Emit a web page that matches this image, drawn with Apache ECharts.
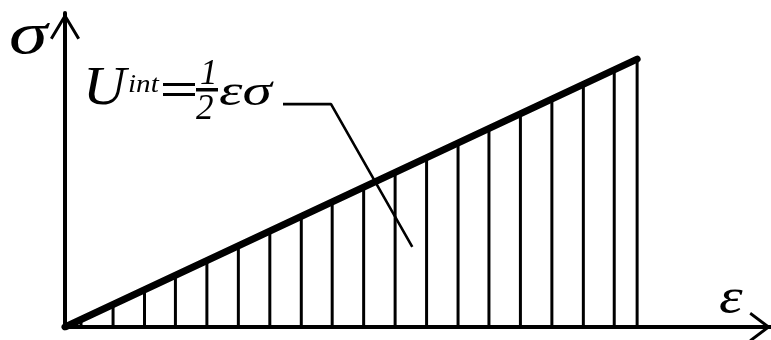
<!DOCTYPE html>
<html>
<head>
<meta charset="utf-8">
<script src="https://cdn.jsdelivr.net/npm/echarts@6/dist/echarts.min.js"></script>
<style>
  html, body { margin: 0; padding: 0; background: #fff; }
  #chart { width: 771px; height: 340px; }
</style>
</head>
<body>
<div id="chart"></div>
<script>
// Linear-elastic loading path: stress rises in proportion to strain
const loadPath = [[0, 0], [10, 10]];

// Hatching under the line (strain, stress at that strain)
const hatchLines = [
  [0.28, 0.28], [0.84, 0.84], [1.39, 1.39], [1.93, 1.93], [2.48, 2.48],
  [3.03, 3.03], [3.58, 3.58], [4.13, 4.13], [4.67, 4.67], [5.22, 5.22],
  [5.77, 5.77], [6.32, 6.32], [6.87, 6.87], [7.41, 7.41], [7.96, 7.96],
  [8.51, 8.51], [9.06, 9.06], [9.60, 9.60], [10.0, 10.0]
];

// Leader from the energy label into the hatched area
const leaderPath = [[3.81, 8.32], [4.65, 8.32], [6.07, 2.99]];

// Axis ranges
const strainMax = 12.34;
const stressMax = 11.72;

// Open chevron arrowheads (thin filled V shapes, tip pointing up)
const arrowY = 'path://M0,25 L15,0 L30,25 L27.4,26.5 L15,5.8 L2.6,26.5 Z';
const arrowX = 'path://M0,20 L15,0 L30,20 L27.6,21.6 L15,5.0 L2.4,21.6 Z';

const serif = '"Liberation Serif", "DejaVu Serif", serif';
const ink = '#000';

// Italic serif text placed by its top-left corner, optionally widened
function glyph(text, x, y, size, scaleX) {
  return {
    type: 'text', x: x, y: y, scaleX: scaleX || 1,
    style: { text: text, x: 0, y: 0, align: 'left', verticalAlign: 'top',
             font: 'italic ' + size + 'px ' + serif, fill: ink }
  };
}
function bar(x, y, w, h) {
  return { type: 'rect', shape: { x: x, y: y, width: w, height: h }, style: { fill: ink } };
}

const chart = echarts.init(document.getElementById('chart'), null, { renderer: 'canvas' });

chart.setOption({
  animation: false,
  backgroundColor: '#fff',
  grid: { left: 65, right: 0, top: 13, bottom: 13, containLabel: false },
  xAxis: {
    type: 'value', min: 0, max: strainMax,
    axisLine: {
      show: true, onZero: false,
      lineStyle: { color: ink, width: 4 },
      symbol: ['none', arrowX], symbolSize: [30, 21.6], symbolOffset: [0, -10.8]
    },
    axisTick: { show: false }, axisLabel: { show: false }, splitLine: { show: false }
  },
  yAxis: {
    type: 'value', min: 0, max: stressMax,
    axisLine: {
      show: true, onZero: false,
      lineStyle: { color: ink, width: 4 },
      symbol: ['none', arrowY], symbolSize: [30, 26.5], symbolOffset: [0, -13.25]
    },
    axisTick: { show: false }, axisLabel: { show: false }, splitLine: { show: false }
  },
  series: [
    {
      name: 'hatch', type: 'bar', data: hatchLines, barWidth: 3,
      itemStyle: { color: ink }, z: 2, silent: true
    },
    {
      name: 'load', type: 'line', data: loadPath, showSymbol: false,
      lineStyle: { color: ink, width: 7, cap: 'round' }, z: 4, silent: true
    },
    {
      name: 'leader', type: 'line', data: leaderPath, showSymbol: false,
      lineStyle: { color: ink, width: 2.6 }, z: 3, silent: true
    }
  ],
  graphic: [
    // Axis symbols
    glyph('σ', 9, 7, 60, 1.3),
    glyph('ε', 719, 275, 50, 1.2),
    // U_int = ½ εσ
    glyph('U', 83, 63, 54, 1.1),
    glyph('int', 128, 72, 26, 1.12),
    bar(163, 83, 32, 3),
    bar(163, 93, 32, 3),
    bar(196, 88, 22, 3.5),
    glyph('1', 200, 57, 35),
    glyph('2', 196, 92, 35),
    glyph('εσ', 219, 71, 44, 1.35)
  ]
});
</script>
</body>
</html>
